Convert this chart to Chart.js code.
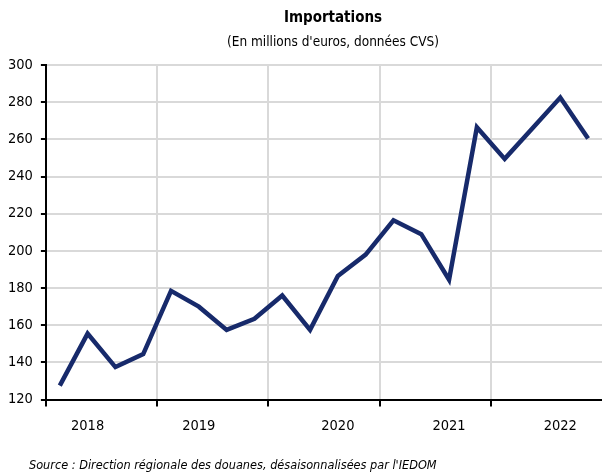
<!DOCTYPE html>
<html>
<head>
<meta charset="utf-8">
<script src="https://cdn.jsdelivr.net/npm/chart.js@4"></script>
<style>
  body { margin: 0; background: #fff; }
  #wrap { position: relative; width: 602px; height: 474px; font-family: "DejaVu Sans Condensed", sans-serif; }
  #title { position: absolute; left: 0; width: 666px; top: 8px; text-align: center; font-weight: bold; font-size: 15px; }
  #subtitle { position: absolute; left: 0; width: 666px; top: 33px; text-align: center; font-size: 13.5px; }
  #source { position: absolute; left: 29px; top: 457px; font-style: italic; font-size: 12.6px; }
  canvas { position: absolute; left: 0; top: 0; }
</style>
</head>
<body>
<div id="wrap">
  <canvas id="chart" width="602" height="474"></canvas>
  <div id="title">Importations</div>
  <div id="subtitle">(En millions d'euros, données CVS)</div>
  <div id="source">Source : Direction régionale des douanes, désaisonnalisées par l'IEDOM</div>
</div>
<script>
  // trimestres 2018 T1 -> 2022 T4
  const quarters = [
    "2018T1", "2018T2", "2018T3", "2018T4",
    "2019T1", "2019T2", "2019T3", "2019T4",
    "2020T1", "2020T2", "2020T3", "2020T4",
    "2021T1", "2021T2", "2021T3", "2021T4",
    "2022T1", "2022T2", "2022T3", "2022T4",
  ];
  const imports = [
    127.5, 155.5, 137.5, 144.5,
    178.5, 170, 157.5, 163.5,
    176, 157.5, 186.5, 198,
    216.5, 209, 184.5, 266.5,
    249.5, 266, 282.5, 260.5,
  ];
  // year labels as they sit under the axis
  const tickLabels = [
    "", "2018", "", "",
    "", "2019", "", "",
    "", "", "2020", "",
    "", "", "2021", "",
    "", "", "2022", "",
  ];

  const font = { family: '"DejaVu Sans Condensed", sans-serif', size: 14.5 };

  new Chart(document.getElementById("chart").getContext("2d"), {
    type: "line",
    data: {
      labels: quarters,
      datasets: [
        {
          data: imports,
          borderColor: "#172a6b",
          borderWidth: 4.5,
          pointRadius: 0,
          tension: 0,
          fill: false,
        },
      ],
    },
    options: {
      responsive: false,
      animation: false,
      layout: { padding: { top: 65, bottom: 28, left: 0, right: 0 } },
      plugins: { legend: { display: false }, tooltip: { enabled: false } },
      scales: {
        x: {
          offset: true,
          border: { color: "#000", width: 2 },
          grid: {
            offset: true,
            lineWidth: 2,
            tickLength: 7,
            color: (ctx) => (ctx.index % 4 === 0 && ctx.index > 0 && ctx.index < 20 ? "#d9d9d9" : "rgba(0,0,0,0)"),
            tickColor: (ctx) => (ctx.index % 4 === 0 ? "#000" : "rgba(0,0,0,0)"),
          },
          ticks: {
            autoSkip: false,
            maxRotation: 0,
            padding: 11,
            color: "#000",
            font: font,
            callback: (value, index) => tickLabels[index],
          },
        },
        y: {
          min: 120,
          max: 300,
          border: { color: "#000", width: 2 },
          grid: { color: "#d9d9d9", lineWidth: 2, tickLength: 5, tickColor: "#000" },
          ticks: { stepSize: 20, padding: 8, color: "#000", font: font },
        },
      },
    },
  });
</script>
</body>
</html>
